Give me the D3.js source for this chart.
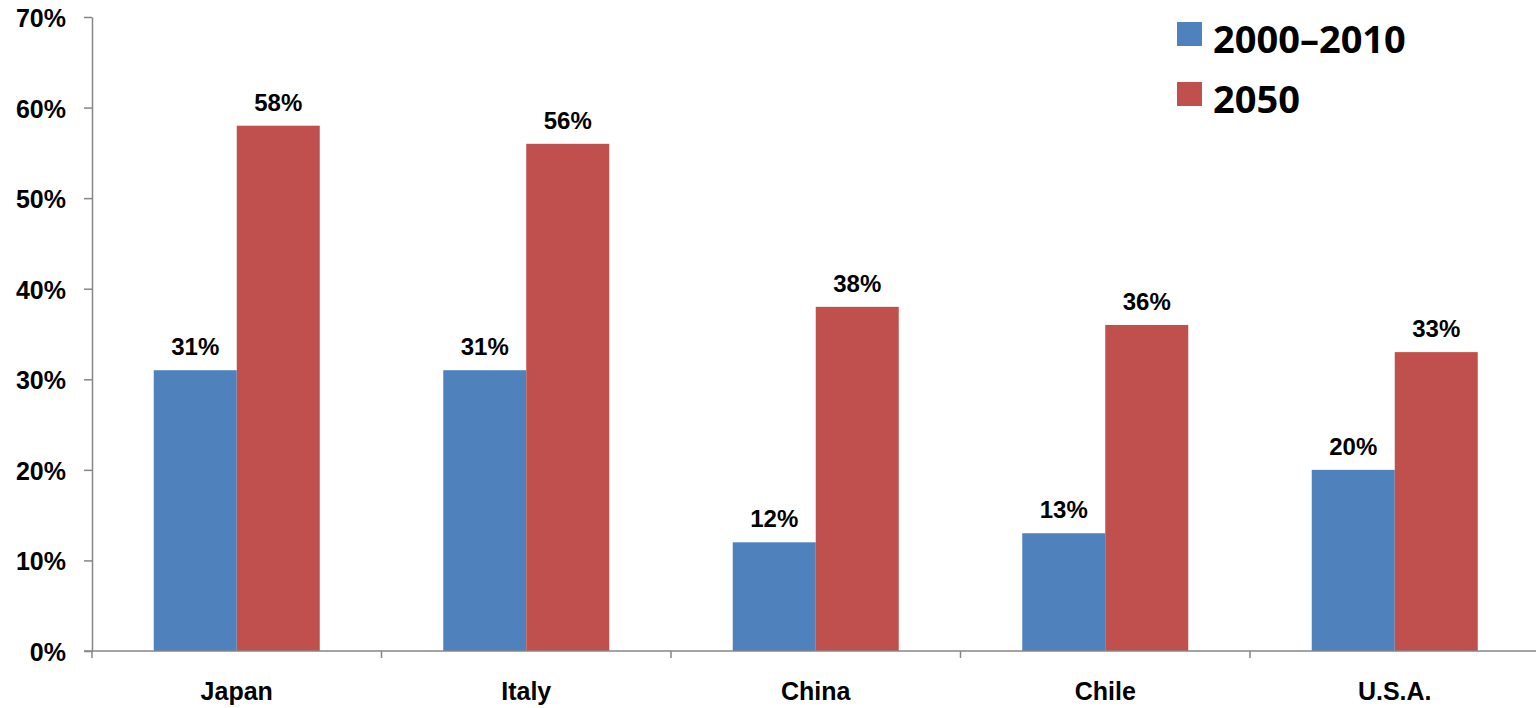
<!DOCTYPE html>
<html>
<head>
<meta charset="utf-8">
<script src="https://cdn.jsdelivr.net/npm/d3@7"></script>
<style>
  html, body { margin: 0; padding: 0; background: #fff; }
  svg { display: block; }
</style>
</head>
<body>
<div id="chart"></div>
<script>
// Données
const countries = ['Japan', 'Italy', 'China', 'Chile', 'U.S.A.'];
const seriesNames = ['2000–2010', '2050'];
const values2000 = [31, 31, 12, 13, 20];
const values2050 = [58, 56, 38, 36, 33];
const yTicks = [0, 10, 20, 30, 40, 50, 60, 70];
const colors = ['#4F81BD', '#C0504D'];

const width = 1536, height = 708;
const margin = { top: 17, right: -3.5, bottom: 57, left: 92 };
const axisColor = '#868686';
const font = '"Liberation Sans", Arial, sans-serif';

const svg = d3.select('#chart').append('svg')
    .attr('width', width)
    .attr('height', height);

// ── Échelles ──
const x0 = d3.scaleBand()
    .domain(countries)
    .range([margin.left, width - margin.right])
    .padding(0);

const x1 = d3.scaleBand()
    .domain(seriesNames)
    .range([0, x0.bandwidth()])
    .paddingInner(0)
    .paddingOuter(0.744);

const y = d3.scaleLinear()
    .domain([0, 70])
    .range([height - margin.bottom, margin.top]);

const rows = countries.map((c, i) => ({
    country: c,
    vals: [values2000[i], values2050[i]]
}));

// ── Barres ──
const groups = svg.append('g')
    .selectAll('g')
    .data(rows)
    .join('g')
    .attr('transform', d => `translate(${x0(d.country)},0)`);

groups.selectAll('rect')
    .data(d => d.vals.map((v, k) => ({ key: seriesNames[k], v, k })))
    .join('rect')
    .attr('x', d => x1(d.key))
    .attr('y', d => y(d.v))
    .attr('width', x1.bandwidth())
    .attr('height', d => y(0) - y(d.v))
    .attr('fill', d => colors[d.k]);

// Étiquettes de valeurs
groups.selectAll('text')
    .data(d => d.vals.map((v, k) => ({ key: seriesNames[k], v, k })))
    .join('text')
    .attr('x', d => x1(d.key) + x1.bandwidth() / 2)
    .attr('y', d => y(d.v) - 15)
    .attr('text-anchor', 'middle')
    .style('font-family', font)
    .style('font-weight', 'bold')
    .style('font-size', '24px')
    .attr('fill', '#000')
    .text(d => d.v + '%');

// ── Axe Y ──
const yAxis = svg.append('g')
    .attr('transform', `translate(${margin.left},0)`)
    .call(d3.axisLeft(y)
        .tickValues(yTicks)
        .tickFormat(d => d + '%')
        .tickSize(8)
        .tickSizeOuter(0)
        .tickPadding(18));

yAxis.select('.domain').attr('stroke', axisColor).attr('stroke-width', 1.5);
yAxis.selectAll('.tick line').attr('stroke', axisColor).attr('stroke-width', 1.5);
yAxis.selectAll('.tick text')
    .style('font-family', font)
    .style('font-weight', 'bold')
    .style('font-size', '25px')
    .attr('fill', '#000')
    .attr('dy', '0.38em');

// ── Axe X (traits aux limites des catégories) ──
const xAxisG = svg.append('g')
    .attr('transform', `translate(0,${y(0)})`);

xAxisG.append('line')
    .attr('x1', margin.left - 8)
    .attr('x2', width)
    .attr('stroke', axisColor)
    .attr('stroke-width', 1.5);

const boundaries = countries.map(c => x0(c)).concat([x0(countries[countries.length - 1]) + x0.step()]);
xAxisG.selectAll('line.tk')
    .data(boundaries)
    .join('line')
    .attr('class', 'tk')
    .attr('x1', d => d)
    .attr('x2', d => d)
    .attr('y1', 0)
    .attr('y2', 7)
    .attr('stroke', axisColor)
    .attr('stroke-width', 1.5);

xAxisG.selectAll('text')
    .data(countries)
    .join('text')
    .attr('x', d => x0(d) + x0.bandwidth() / 2)
    .attr('y', 49)
    .attr('text-anchor', 'middle')
    .style('font-family', font)
    .style('font-weight', 'bold')
    .style('font-size', '25px')
    .attr('fill', '#000')
    .text(d => d);

// ── Légende ──
const legend = svg.append('g')
    .attr('transform', 'translate(1177,22)');

const item = legend.selectAll('g')
    .data(seriesNames)
    .join('g')
    .attr('transform', (d, i) => `translate(0,${i * 60})`);

item.append('rect')
    .attr('width', 25)
    .attr('height', 24)
    .attr('fill', (d, i) => colors[i]);

item.append('text')
    .attr('x', 36)
    .attr('y', 31)
    .style('font-family', '"Open Sans", sans-serif')
    .style('font-weight', 'bold')
    .style('font-size', '38px')
    .attr('fill', '#000')
    .text(d => d);
</script>
</body>
</html>
